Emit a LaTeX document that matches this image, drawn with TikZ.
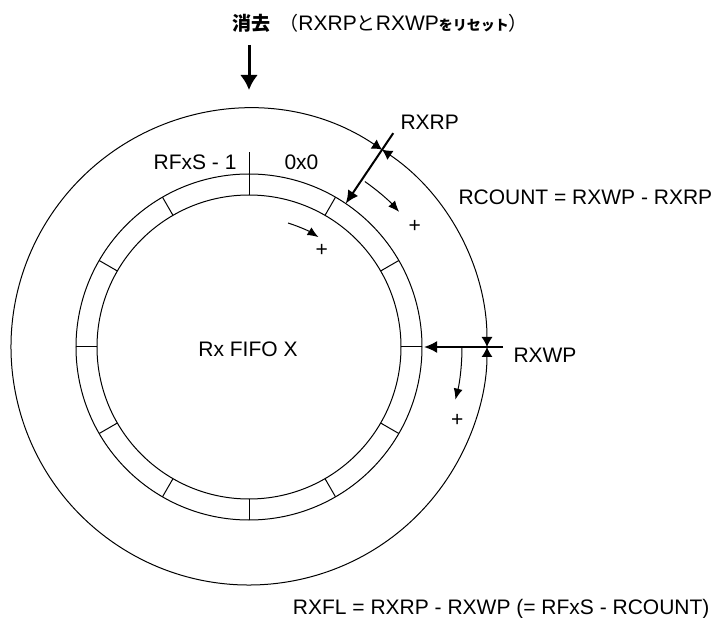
\documentclass[tikz,border=0pt]{standalone}
\usepackage{fontspec}
\setmainfont{Liberation Sans}
\newfontfamily\jpfont{Noto Sans CJK JP}
\usepackage{tikz}
\usetikzlibrary{arrows.meta}

\begin{document}
\begin{tikzpicture}[x=1pt, y=1pt, line width=1pt,
        font=\fontsize{21}{25}\selectfont,
        lbl/.style={inner sep=0pt},
        span/.style={{Latex[length=10pt,width=11pt]}-{Latex[length=10pt,width=11pt]}},
        ptr/.style={line width=2pt, -{Latex[length=13pt,width=12pt]}},
        incr/.style={-{Latex[length=11pt,width=9pt]}}]
        \useasboundingbox (-249,-271) rectangle (471,347);
        \coordinate (c) at (0,0);
        \draw (c) circle[radius=152];
        \draw (c) circle[radius=173];
        \foreach \a in {0,30,...,330}
            \draw (\a:152) -- (\a:173);
        \draw (90:173) -- (90:195);
        \draw[span] (0:238) arc[start angle=0, end angle=56, radius=238];
        \draw[span] (56:238) arc[start angle=56, end angle=360, radius=238];
        \node[lbl, font={\fontsize{19}{22}\selectfont}, anchor=west] (title) at (-17,324)
            {{\jpfont\bfseries 消去}\hspace{9pt}{\jpfont （}{\fontsize{21}{22}\selectfont RXRP}{\jpfont と}{\fontsize{21}{22}\selectfont RXWP}{\jpfont\fontsize{14}{15}\selectfont\bfseries をリセット}{\jpfont ）}};
        \coordinate (cleartop) at (0,302);
        \coordinate (clearend) at (0,257);
        \draw[line width=3pt, -{Latex[length=15pt,width=18pt]}] (cleartop) -- (clearend);
        \node[lbl, anchor=base east] (last) at (-12,177.5) {RFxS - 1};
        \node[lbl, anchor=base west] (first) at (35,177.5) {0x0};
        \node[lbl, anchor=base] (fifo) at (-1,-9.5) {Rx FIFO X};
        \coordinate (rptail) at (56:258);
        \coordinate (rptip) at (56:173);
        \draw[ptr] (rptail) -- (rptip);
        \node[lbl, anchor=base west] (rxrp) at (151,217.5) {RXRP};
        \coordinate (wptail) at (0:254);
        \coordinate (wptip) at (0:175);
        \draw[ptr] (wptail) -- (wptip);
        \node[lbl, anchor=base west] (rxwp) at (264,-15.5) {RXWP};
        \node[lbl, anchor=base west] (rcount) at (209,142.5) {RCOUNT = RXWP - RXRP};
        \node[lbl, anchor=base east] (rxfl) at (461,-267.5) {RXFL = RXRP - RXWP (= RFxS - RCOUNT)};
        \draw[incr] (55:202) arc[start angle=55, end angle=42, radius=202];
        \node[lbl] (plusa) at (36:205) {+};
        \draw[incr] (72.5:130) arc[start angle=72.5, end angle=57.7, radius=130];
        \node[lbl] (plusb) at (53:121) {+};
        \draw[incr] (0:213) arc[start angle=0, end angle=-14.3, radius=213];
        \node[lbl] (plusc) at (-19.5:221) {+};
    \end{tikzpicture}
\end{document}
